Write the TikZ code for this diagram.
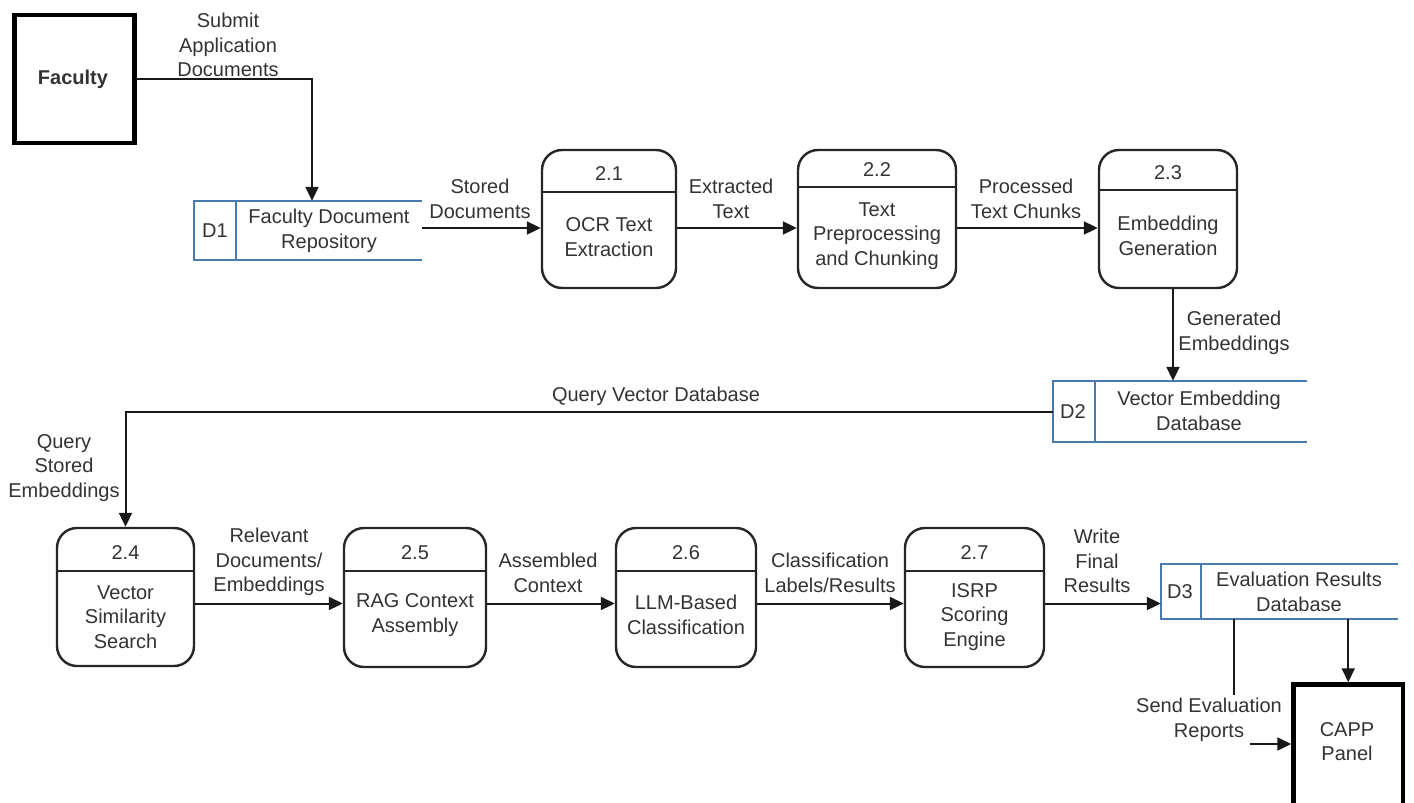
\documentclass[tikz,border=0pt]{standalone}
\usepackage{fontspec}
\setmainfont{Liberation Sans}
\usetikzlibrary{arrows.meta}
\definecolor{storeblue}{HTML}{4A7AAE}
\definecolor{inkgray}{HTML}{333333}
\begin{document}
\begin{tikzpicture}[x=1pt,y=-1pt,
  txt/.style={inner sep=0pt, align=center, text=inkgray, font=\fontsize{20}{24.5}\selectfont},
  entity/.style={draw=black, line width=4.5pt, inner sep=0pt},
  proc/.style={draw=black!85, line width=2.4pt, rounded corners=20pt, inner sep=0pt},
  divline/.style={draw=black!85, line width=2.4pt},
  storebox/.style={inner sep=0pt},
  storeline/.style={draw=storeblue, line width=2.4pt},
  flow/.style={draw=black!90, line width=2pt, -{Triangle[length=14pt,width=13pt]}},
  plainflow/.style={draw=black!90, line width=2pt}
]
\useasboundingbox (0,0) rectangle (1414,803);
\clip (0,0) rectangle (1414,803);
\fill[white] (0,0) rectangle (1414,803);

% ---------- external entities ----------
\node[entity, minimum width=120pt, minimum height=128pt] (fac) at (74.5,79) {};
\node[txt, font=\fontsize{20}{24.5}\selectfont\bfseries] (factxt) at (73,79) {Faculty};

\node[entity, minimum width=109.5pt, minimum height=145pt] (capp) at (1348.25,757) {};
\node[txt] (capptxt) at (1347,741.5) {CAPP\\Panel};

% ---------- data stores ----------
\node[storebox, minimum width=228pt, minimum height=59pt] (d1) at (308,230.5) {};
\draw[storeline] (d1.north east) -- (d1.north west) -- (d1.south west) -- (d1.south east);
\draw[storeline] ([xshift=42pt]d1.north west) -- ([xshift=42pt]d1.south west);
\node[txt] (d1id) at (215,231) {D1};
\node[txt] (d1txt) at (329,231) {Faculty Document\\Repository};

\node[storebox, minimum width=254pt, minimum height=61pt] (d2) at (1180,411.5) {};
\draw[storeline] (d2.north east) -- (d2.north west) -- (d2.south west) -- (d2.south east);
\draw[storeline] ([xshift=42pt]d2.north west) -- ([xshift=42pt]d2.south west);
\node[txt] (d2id) at (1073,412) {D2};
\node[txt] (d2txt) at (1199,411) {Vector Embedding\\Database};

\node[storebox, minimum width=237pt, minimum height=55pt] (d3) at (1279.5,591.5) {};
\draw[storeline] (d3.north east) -- (d3.north west) -- (d3.south west) -- (d3.south east);
\draw[storeline] ([xshift=40pt]d3.north west) -- ([xshift=40pt]d3.south west);
\node[txt] (d3id) at (1180,592) {D3};
\node[txt] (d3txt) at (1299,592) {Evaluation Results\\Database};

% ---------- processes ----------
\node[proc, minimum width=134pt, minimum height=138pt] (p21) at (609,219) {};
\draw[divline] ([yshift=-43pt]p21.north west) -- ([yshift=-43pt]p21.north east);
\node[txt] (p21n) at (609,174) {2.1};
\node[txt] (p21t) at (609,237) {OCR Text\\Extraction};

\node[proc, minimum width=158pt, minimum height=138pt] (p22) at (877,219) {};
\draw[divline] ([yshift=-38pt]p22.north west) -- ([yshift=-38pt]p22.north east);
\node[txt] (p22n) at (877,170) {2.2};
\node[txt] (p22t) at (877,236) {Text\\Preprocessing\\and Chunking};

\node[proc, minimum width=138pt, minimum height=138pt] (p23) at (1168,219) {};
\draw[divline] ([yshift=-41pt]p23.north west) -- ([yshift=-41pt]p23.north east);
\node[txt] (p23n) at (1168,173) {2.3};
\node[txt] (p23t) at (1168,236) {Embedding\\Generation};

\node[proc, minimum width=137pt, minimum height=138pt] (p24) at (125.5,597) {};
\draw[divline] ([yshift=-44pt]p24.north west) -- ([yshift=-44pt]p24.north east);
\node[txt] (p24n) at (125.5,553) {2.4};
\node[txt] (p24t) at (125.5,617) {Vector\\Similarity\\Search};

\node[proc, minimum width=142pt, minimum height=139pt] (p25) at (415,597.5) {};
\draw[divline] ([yshift=-44pt]p25.north west) -- ([yshift=-44pt]p25.north east);
\node[txt] (p25n) at (415,553) {2.5};
\node[txt] (p25t) at (415,615) {RAG Context\\Assembly};

\node[proc, minimum width=140pt, minimum height=139pt] (p26) at (686,597.5) {};
\draw[divline] ([yshift=-44pt]p26.north west) -- ([yshift=-44pt]p26.north east);
\node[txt] (p26n) at (686,553) {2.6};
\node[txt] (p26t) at (686,615) {LLM-Based\\Classification};

\node[proc, minimum width=139pt, minimum height=139pt] (p27) at (974.5,597.5) {};
\draw[divline] ([yshift=-44pt]p27.north west) -- ([yshift=-44pt]p27.north east);
\node[txt] (p27n) at (974.5,553) {2.7};
\node[txt] (p27t) at (974.5,617) {ISRP\\Scoring\\Engine};

% ---------- flow rows ----------
\coordinate (rowtop) at (0,228);
\coordinate (rowbot) at (0,603.5);
\coordinate (sendtop) at (1234,695);
\coordinate (sendstart) at (1250,744);

% ---------- data flows ----------
\draw[flow] (fac.east) -| ([xshift=4pt]d1.north);
\draw[flow] (d1.east |- rowtop) -- (p21.west |- rowtop);
\draw[flow] (p21.east |- rowtop) -- (p22.west |- rowtop);
\draw[flow] (p22.east |- rowtop) -- (p23.west |- rowtop);
\draw[flow] ([xshift=5pt]p23.south) -- ([xshift=5pt]p23.south |- d2.north);
\draw[flow] (d2.west) -| (p24.north);
\draw[flow] (p24.east |- rowbot) -- (p25.west |- rowbot);
\draw[flow] (p25.east |- rowbot) -- (p26.west |- rowbot);
\draw[flow] (p26.east |- rowbot) -- (p27.west |- rowbot);
\draw[flow] (p27.east |- rowbot) -- (d3.west |- rowbot);
\draw[flow] (d3.south -| capp.north) -- (capp.north);
\draw[plainflow] (d3.south -| sendtop) -- (sendtop);
\draw[flow] (sendstart) -- (capp.west |- sendstart);

% ---------- flow labels ----------
\node[txt] (lsubmit) at (228,45) {Submit\\Application\\Documents};
\node[txt] (lstored) at (480,199) {Stored\\Documents};
\node[txt] (lextract) at (731,199) {Extracted\\Text};
\node[txt] (lproc) at (1026,199) {Processed\\Text Chunks};
\node[txt] (lgen) at (1234,333) {Generated\\Embeddings};
\node[txt] (lquery) at (656,396) {Query Vector Database};
\node[txt] (lqstored) at (64,468) {Query\\Stored\\Embeddings};
\node[txt] (lrelev) at (269,562) {Relevant\\Documents/\\Embeddings};
\node[txt] (lassem) at (548,573) {Assembled\\Context};
\node[txt] (lclass) at (830,573) {Classification\\Labels/Results};
\node[txt] (lwrite) at (1097,561) {Write\\Final\\Results};
\node[txt] (lsend) at (1209,720) {Send Evaluation\\Reports};
\end{tikzpicture}
\end{document}
